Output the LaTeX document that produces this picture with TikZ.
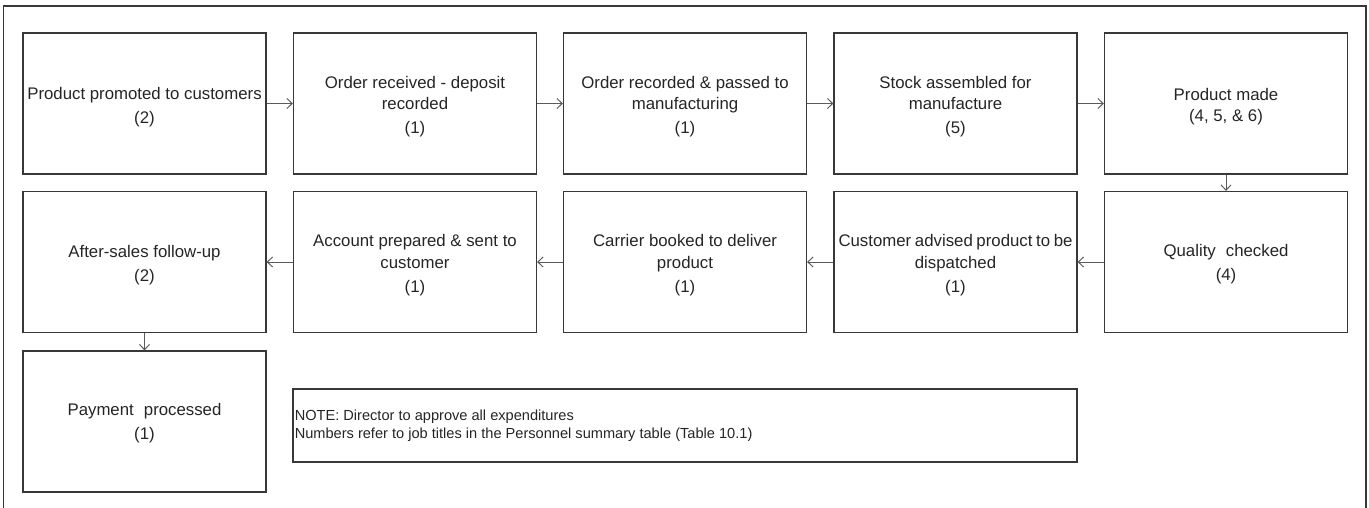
\documentclass[tikz,border=0pt]{standalone}
\usepackage{fontspec}
\setmainfont{Liberation Sans}
\usetikzlibrary{arrows.meta}
\definecolor{edge}{HTML}{383838}
\definecolor{link}{HTML}{5A5A5A}
\definecolor{ink}{HTML}{252525}
\tikzset{
  stepbox/.style={draw=edge, line width=0.65pt, rectangle, minimum width=121.5pt,
    minimum height=70.5pt, inner sep=0pt},
  steptext/.style={align=center, text=ink, inner sep=0pt,
    font=\fontsize{8.4pt}{10.8pt}\selectfont},
  notebox/.style={draw=edge, line width=0.65pt, rectangle, minimum width=392pt,
    minimum height=36.5pt, inner sep=0pt},
  flow/.style={draw=link, line width=0.5pt, -{Straight Barb[length=2.6pt,width=5pt]}},
  frame/.style={draw=edge, line width=0.65pt}
}
\begin{document}
\begin{tikzpicture}[x=0.5pt,y=-0.5pt]
\useasboundingbox (0,0) rectangle (1369,508);
% outer frame, open at the foot
\draw[frame] (3.5,508) -- (3.5,6) -- (1366,6) -- (1366,508);

% first row, left to right
\node[stepbox] (promo) at (144.5,103.5) {};
\node[stepbox] (order) at (415,103.5) {};
\node[stepbox] (pass) at (685,103.5) {};
\node[stepbox] (stock) at (955.5,103.5) {};
\node[stepbox] (made) at (1226,103.5) {};

% second row, right to left
\node[stepbox] (quality) at (1226,262) {};
\node[stepbox] (advise) at (955.5,262) {};
\node[stepbox] (carrier) at (685,262) {};
\node[stepbox] (account) at (415,262) {};
\node[stepbox] (after) at (144.5,262) {};

% third row
\node[stepbox] (pay) at (144.5,421.5) {};
\node[notebox] (note) at (685,425.5) {};

% box captions, set a little below each centre
\node[steptext] (promoT) at ([yshift=-1.6pt]promo.center) {Product promoted to customers\\[1.2pt](2)};
\node[steptext] (orderT) at ([yshift=-1.6pt]order.center) {Order received - deposit\\recorded\\[1.2pt](1)};
\node[steptext] (passT) at ([yshift=-1.6pt]pass.center) {Order recorded \& passed to\\manufacturing\\[1.2pt](1)};
\node[steptext] (stockT) at ([yshift=-1.6pt]stock.center) {Stock assembled for\\manufacture\\[1.2pt](5)};
\node[steptext] (madeT) at ([yshift=-1.6pt]made.center) {Product made\\(4, 5, \& 6)};
\node[steptext] (qualityT) at ([yshift=-1pt]quality.center) {Quality\hspace{0.6em}checked\\[1.2pt](4)};
\node[steptext] (adviseT) at ([yshift=-1.6pt]advise.center) {\makebox[117pt][s]{Customer advised product to be}\\dispatched\\[1.2pt](1)};
\node[steptext] (carrierT) at ([yshift=-1.6pt]carrier.center) {Carrier booked to deliver\\product\\[1.2pt](1)};
\node[steptext] (accountT) at ([yshift=-1.6pt]account.center) {Account prepared \& sent to\\customer\\[1.2pt](1)};
\node[steptext] (afterT) at ([yshift=-1.6pt]after.center) {After-sales follow-up\\[1.2pt](2)};
\node[steptext] (payT) at ([yshift=-1pt]pay.center) {Payment\hspace{0.6em}processed\\[1.2pt](1)};
\node[anchor=west, align=left, text=ink, inner sep=0pt,
  font=\fontsize{7.3pt}{9pt}\selectfont] (noteT) at ([xshift=1pt]note.west)
  {NOTE: Director to approve all expenditures\\Numbers refer to job titles in the Personnel summary table (Table 10.1)};

% connectors
\draw[flow] (promo) -- (order);
\draw[flow] (order) -- (pass);
\draw[flow] (pass) -- (stock);
\draw[flow] (stock) -- (made);
\draw[flow] (made) -- (quality);
\draw[flow] (quality) -- (advise);
\draw[flow] (advise) -- (carrier);
\draw[flow] (carrier) -- (account);
\draw[flow] (account) -- (after);
\draw[flow] (after) -- (pay);
\end{tikzpicture}
\end{document}
